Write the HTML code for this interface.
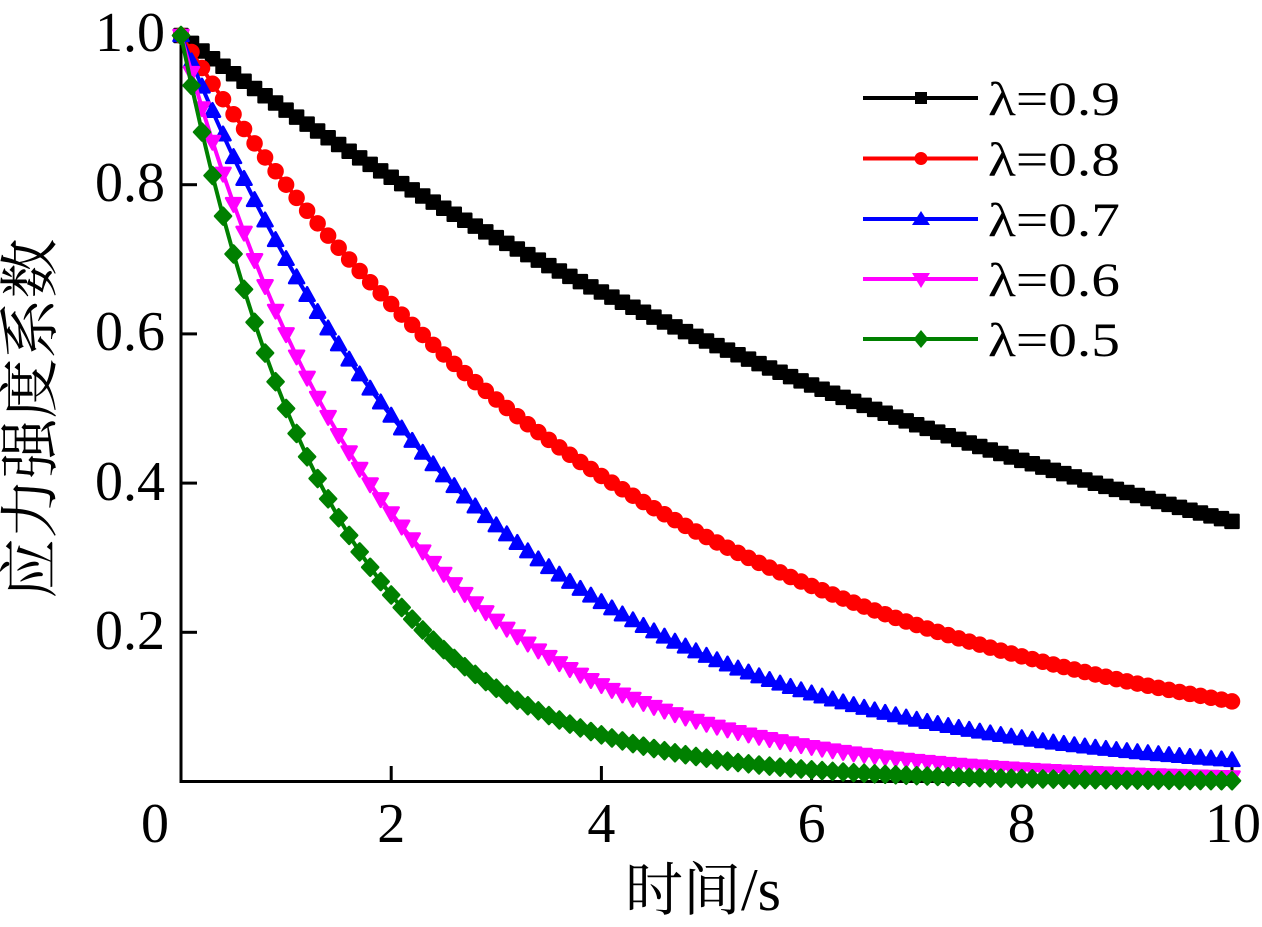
<!DOCTYPE html>
<html><head><meta charset="utf-8">
<style>
html,body{margin:0;padding:0;background:#fff;}
svg{display:block;}
text{fill:#000;}
.lat{font-family:"Liberation Serif","Times New Roman",serif;}
.cjk{font-family:"Noto Serif CJK SC","WenQuanYi Zen Hei",serif;}
</style></head>
<body>
<svg id="c" width="1262" height="927" viewBox="0 0 1262 927" xmlns="http://www.w3.org/2000/svg">
<rect width="1262" height="927" fill="#fff"/>
<!-- axes -->
<g stroke="#000" stroke-width="3" fill="none">
  <line x1="181" y1="35" x2="181" y2="783"/>
  <line x1="179.5" y1="781.5" x2="1234" y2="781.5"/>
  <line x1="181" y1="632.3" x2="197" y2="632.3"/>
  <line x1="181" y1="483.1" x2="197" y2="483.1"/>
  <line x1="181" y1="333.9" x2="197" y2="333.9"/>
  <line x1="181" y1="184.7" x2="197" y2="184.7"/>
  <line x1="391.2" y1="781.5" x2="391.2" y2="766"/>
  <line x1="601.4" y1="781.5" x2="601.4" y2="766"/>
  <line x1="811.6" y1="781.5" x2="811.6" y2="766"/>
  <line x1="1021.8" y1="781.5" x2="1021.8" y2="766"/>
  <line x1="1232" y1="781.5" x2="1232" y2="766"/>
</g>
<!-- y tick labels -->
<g class="lat" font-family="Liberation Serif, serif" font-size="56" text-anchor="end">
  <text x="165" y="51">1.0</text>
  <text x="165" y="201">0.8</text>
  <text x="165" y="350">0.6</text>
  <text x="165" y="500">0.4</text>
  <text x="165" y="649">0.2</text>
</g>
<!-- x tick labels -->
<g class="lat" font-family="Liberation Serif, serif" font-size="56" text-anchor="middle">
  <text x="155" y="842">0</text>
  <text x="391.2" y="842">2</text>
  <text x="601.4" y="842">4</text>
  <text x="811.6" y="842">6</text>
  <text x="1021.8" y="842">8</text>
  <text x="1233" y="842">10</text>
</g>
<!-- axis titles -->
<text x="625" y="910" font-size="58"><tspan class="cjk">时间</tspan><tspan class="lat" font-size="60">/s</tspan></text>
<text class="cjk" font-size="60" text-anchor="middle" transform="translate(29,418.5) rotate(-90)" y="22">应力强度系数</text>

<g id="series"></g>

<!-- legend -->
<g stroke-width="4">
  <line x1="863" y1="98" x2="978" y2="98" stroke="#000"/>
  <rect x="915" y="92" width="12" height="12" fill="#000"/>
  <line x1="863" y1="158.5" x2="978" y2="158.5" stroke="#f00"/>
  <circle cx="921" cy="158.5" r="6.5" fill="#f00"/>
  <line x1="863" y1="219" x2="978" y2="219" stroke="#00f"/>
  <path d="M921 211 L930 225 L912 225 Z" fill="#00f"/>
  <line x1="863" y1="279" x2="978" y2="279" stroke="#f0f"/>
  <path d="M921 288 L930 273 L912 273 Z" fill="#f0f"/>
  <line x1="863" y1="339" x2="978" y2="339" stroke="#008000"/>
  <path d="M921 330 L928.5 339 L921 348 L913.5 339 Z" fill="#008000"/>
</g>
<g class="lat" font-family="Liberation Serif, serif" font-size="48">
  <text x="988" y="115" textLength="132" lengthAdjust="spacingAndGlyphs">λ=0.9</text>
  <text x="988" y="175.5" textLength="132" lengthAdjust="spacingAndGlyphs">λ=0.8</text>
  <text x="988" y="236" textLength="132" lengthAdjust="spacingAndGlyphs">λ=0.7</text>
  <text x="988" y="296" textLength="132" lengthAdjust="spacingAndGlyphs">λ=0.6</text>
  <text x="988" y="356" textLength="132" lengthAdjust="spacingAndGlyphs">λ=0.5</text>
</g>
</svg>
<script>
(function(){
  var NS="http://www.w3.org/2000/svg";
  var g=document.getElementById("series");
  var S=[{l:0.9,c:"#000000",m:"sq"},{l:0.8,c:"#ff0000",m:"ci"},{l:0.7,c:"#0000ff",m:"tu"},{l:0.6,c:"#ff00ff",m:"td"},{l:0.5,c:"#008000",m:"di"}];
  function X(t){return 181+105.1*t;}
  function Y(v){return 781.5-746*v;}
  function f(n){return n.toFixed(2);}
  function mark(m,x,y){
    if(m==="sq") return "M"+f(x-6.5)+" "+f(y-6.5)+"h13v13h-13z";
    if(m==="ci"){var r=7;return "M"+f(x-r)+" "+f(y)+"a"+r+" "+r+" 0 1 0 "+(2*r)+" 0a"+r+" "+r+" 0 1 0 "+(-2*r)+" 0z";}
    if(m==="tu") return "M"+f(x)+" "+f(y-8)+"L"+f(x+7.5)+" "+f(y+5.5)+"L"+f(x-7.5)+" "+f(y+5.5)+"z";
    if(m==="td") return "M"+f(x)+" "+f(y+8)+"L"+f(x+7.5)+" "+f(y-5.5)+"L"+f(x-7.5)+" "+f(y-5.5)+"z";
    return "M"+f(x)+" "+f(y-8.5)+"L"+f(x+8)+" "+f(y)+"L"+f(x)+" "+f(y+8.5)+"L"+f(x-8)+" "+f(y)+"z";
  }
  S.forEach(function(s){
    var pts=[],md="";
    for(var i=0;i<=100;i++){
      var t=i/10,x=X(t),y=Y(Math.pow(s.l,t));
      pts.push(f(x)+","+f(y));
      md+=mark(s.m,x,y);
    }
    var pl=document.createElementNS(NS,"polyline");
    pl.setAttribute("points",pts.join(" "));
    pl.setAttribute("fill","none");
    pl.setAttribute("stroke",s.c);
    pl.setAttribute("stroke-width","4");
    pl.setAttribute("stroke-linejoin","round");
    g.appendChild(pl);
    var p=document.createElementNS(NS,"path");
    p.setAttribute("d",md);
    p.setAttribute("fill",s.c);
    p.setAttribute("stroke",s.c);
    p.setAttribute("stroke-width","2.5");
    p.setAttribute("stroke-linejoin","round");
    g.appendChild(p);
  });
})();
</script>
</body></html>
